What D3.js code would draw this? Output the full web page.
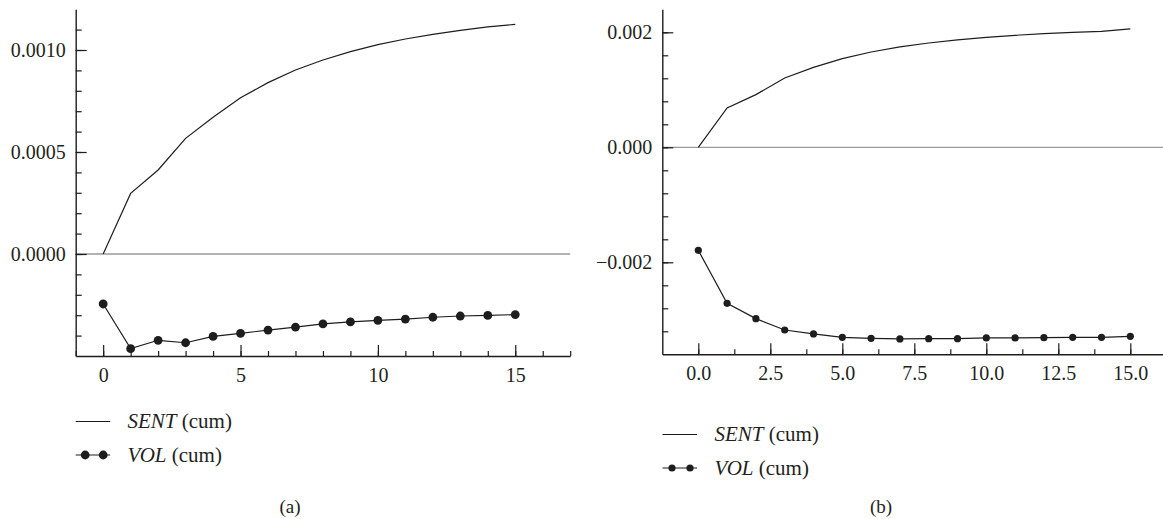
<!DOCTYPE html>
<html>
<head>
<meta charset="utf-8">
<script src="https://cdn.jsdelivr.net/npm/d3@7"></script>
<style>
  html, body { margin: 0; padding: 0; background: #fff; }
  svg text { font-family: "Liberation Serif", "DejaVu Serif", serif; fill: #231f20; }
</style>
</head>
<body>
<svg id="chart" width="1163" height="519"></svg>
<script>
// Horizon (periods) of the cumulative responses
const periods = [0, 1, 2, 3, 4, 5, 6, 7, 8, 9, 10, 11, 12, 13, 14, 15];

// Panel (a): cumulative responses
const sentA = [0, 0.000297, 0.000412, 0.000567, 0.000670, 0.000766, 0.000840, 0.000902,
               0.000951, 0.000992, 0.001026, 0.001054, 0.001077, 0.001096, 0.001113, 0.001126];
const volA  = [-0.000245, -0.000464, -0.000423, -0.000435, -0.000404, -0.000389, -0.000373, -0.000358,
               -0.000343, -0.000333, -0.000325, -0.000319, -0.000310, -0.000304, -0.000301, -0.000297];

// Panel (b): cumulative responses
const sentB = [0, 0.000684, 0.000916, 0.001206, 0.001391, 0.001542, 0.001658, 0.001745,
               0.001814, 0.001867, 0.001913, 0.001948, 0.001977, 0.002000, 0.002017, 0.002058];
const volB  = [-0.001791, -0.002713, -0.002980, -0.003177, -0.003246, -0.003304, -0.003322, -0.003333,
               -0.003328, -0.003328, -0.003316, -0.003316, -0.003310, -0.003304, -0.003304, -0.003287];

// Tick values
const xTicksA = [0, 5, 10, 15];
const xMinorA = [-1, 0, 1, 2, 3, 4, 5, 6, 7, 8, 9, 10, 11, 12, 13, 14, 15, 16, 17];
const yTicksA = [0, 0.0005, 0.0010];
const yMinorA = [-0.0004, -0.0003, -0.0002, -0.0001, 0, 0.0001, 0.0002, 0.0003, 0.0004, 0.0005,
                 0.0006, 0.0007, 0.0008, 0.0009, 0.0010, 0.0011];

const xTicksB = [0, 2.5, 5, 7.5, 10, 12.5, 15];
const xMinorB = [0, 1.25, 2.5, 3.75, 5, 6.25, 7.5, 8.75, 10, 11.25, 12.5, 13.75, 15, 16.25];
const yTicksB = [-0.002, 0, 0.002];
const yMinorB = [-0.0032, -0.0028, -0.0024, -0.0020, -0.0016, -0.0012, -0.0008, -0.0004, 0,
                 0.0004, 0.0008, 0.0012, 0.0016, 0.0020];

const seriesLabels = ["SENT", "VOL"];
const panelLabels = ["(a)", "(b)"];

const svg = d3.select("#chart");
const ink = "#1d1d1d";
const tickFont = 20;
const legendFont = 21;

const panels = [
  {
    sent: sentA, vol: volA,
    xDomain: [-1, 17], xRange: [75.7, 570.2],
    yDomain: [-0.0005, 0.0012], yRange: [356, 9.2],
    xTicks: xTicksA, xMinor: xMinorA, yTicks: yTicksA, yMinor: yMinorA,
    xFmt: d3.format("d"), yFmt: d3.format(".4f"),
    dotR: 4.4,
    legend: { x: 75.7, y1: 421.5, y2: 455, lineLen: 34.5, textX: 127.5 },
    caption: { x: 290, y: 513, text: panelLabels[0] }
  },
  {
    sent: sentB, vol: volB,
    xDomain: [-1.25, 16.25], xRange: [662.3, 1166.3],
    yDomain: [-0.0036, 0.0024], yRange: [354.3, 9.3],
    xTicks: xTicksB, xMinor: xMinorB, yTicks: yTicksB, yMinor: yMinorB,
    xFmt: d3.format(".1f"), yFmt: d3.format(".3f"),
    dotR: 3.6,
    legend: { x: 662.5, y1: 434.5, y2: 468, lineLen: 34.5, textX: 714.5 },
    caption: { x: 881, y: 513, text: panelLabels[1] }
  }
];

panels.forEach(p => {
  const x = d3.scaleLinear().domain(p.xDomain).range(p.xRange);
  const y = d3.scaleLinear().domain(p.yDomain).range(p.yRange);
  const g = svg.append("g");

  // zero reference line
  g.append("line")
    .attr("x1", p.xRange[0]).attr("x2", p.xRange[1])
    .attr("y1", y(0)).attr("y2", y(0))
    .attr("stroke", "#9a9a9a").attr("stroke-width", 1.3);

  // minor ticks (inward)
  g.append("g")
    .attr("transform", `translate(0,${p.yRange[0]})`)
    .call(d3.axisBottom(x).tickValues(p.xMinor).tickFormat("").tickSizeInner(-5).tickSizeOuter(0))
    .call(a => a.select(".domain").remove())
    .call(a => a.selectAll("line").attr("stroke", ink).attr("stroke-width", 1.2));
  g.append("g")
    .attr("transform", `translate(${p.xRange[0]},0)`)
    .call(d3.axisLeft(y).tickValues(p.yMinor).tickFormat("").tickSizeInner(-6).tickSizeOuter(0))
    .call(a => a.select(".domain").remove())
    .call(a => a.selectAll("line").attr("stroke", ink).attr("stroke-width", 1.2));

  // major axes
  g.append("g")
    .attr("transform", `translate(0,${p.yRange[0]})`)
    .call(d3.axisBottom(x).tickValues(p.xTicks).tickFormat(p.xFmt)
      .tickSizeInner(-11).tickSizeOuter(0).tickPadding(12))
    .call(a => a.select(".domain").attr("stroke", ink).attr("stroke-width", 1.4))
    .call(a => a.selectAll("line").attr("stroke", ink).attr("stroke-width", 1.2))
    .call(a => a.selectAll("text").attr("font-size", tickFont)
      .style("font-family", '"Liberation Serif", serif').attr("fill", "#231f20"));
  g.append("g")
    .attr("transform", `translate(${p.xRange[0]},0)`)
    .call(d3.axisLeft(y).tickValues(p.yTicks).tickFormat(p.yFmt)
      .tickSizeInner(-11).tickSizeOuter(0).tickPadding(10))
    .call(a => a.select(".domain").attr("stroke", ink).attr("stroke-width", 1.4))
    .call(a => a.selectAll("line").attr("stroke", ink).attr("stroke-width", 1.2))
    .call(a => a.selectAll("text").attr("font-size", tickFont)
      .style("font-family", '"Liberation Serif", serif').attr("fill", "#231f20"));

  const line = d3.line().x((d, i) => x(periods[i])).y(d => y(d));

  // SENT: plain line
  g.append("path").datum(p.sent)
    .attr("d", line).attr("fill", "none")
    .attr("stroke", ink).attr("stroke-width", 1.2);

  // VOL: line with filled markers
  g.append("path").datum(p.vol)
    .attr("d", line).attr("fill", "none")
    .attr("stroke", ink).attr("stroke-width", 1.2);
  g.selectAll("circle.vol").data(p.vol).join("circle")
    .attr("class", "vol")
    .attr("cx", (d, i) => x(periods[i])).attr("cy", d => y(d))
    .attr("r", p.dotR).attr("fill", ink);

  // legend
  const L = p.legend;
  g.append("line")
    .attr("x1", L.x).attr("x2", L.x + L.lineLen)
    .attr("y1", L.y1).attr("y2", L.y1)
    .attr("stroke", ink).attr("stroke-width", 1.2);
  g.append("line")
    .attr("x1", L.x).attr("x2", L.x + L.lineLen)
    .attr("y1", L.y2).attr("y2", L.y2)
    .attr("stroke", ink).attr("stroke-width", 1.2);
  [L.x + 9.5, L.x + 27.5].forEach(cx => {
    g.append("circle").attr("cx", cx).attr("cy", L.y2).attr("r", p.dotR).attr("fill", ink);
  });
  [[L.y1, seriesLabels[0]], [L.y2, seriesLabels[1]]].forEach(([yy, name]) => {
    const t = g.append("text")
      .attr("x", L.textX).attr("y", yy).attr("dy", "0.33em")
      .attr("font-size", legendFont);
    t.append("tspan").attr("font-style", "italic").text(name);
    t.append("tspan").text(" (cum)");
  });

  // caption
  g.append("text")
    .attr("x", p.caption.x).attr("y", p.caption.y)
    .attr("text-anchor", "middle").attr("font-size", 19)
    .text(p.caption.text);
});
</script>
</body>
</html>
